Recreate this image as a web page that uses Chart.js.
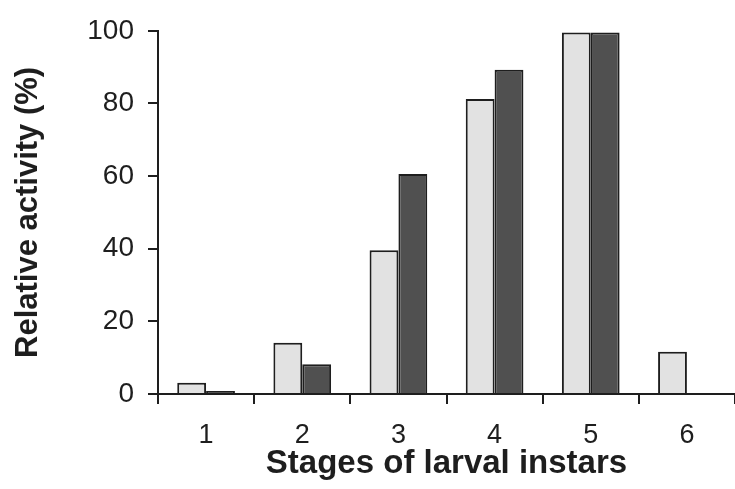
<!DOCTYPE html>
<html>
<head>
<meta charset="utf-8">
<script src="https://cdn.jsdelivr.net/npm/chart.js@4"></script>
<style>
	html, body { margin: 0; padding: 0; background: #fff; }
	#wrap { width: 735px; height: 489px; }
</style>
</head>
<body>
<div id="wrap"><canvas id="main-chart" width="735" height="489"></canvas></div>
<script>
// stages of larval instars
const stages = ['1', '2', '3', '4', '5', '6'];
// relative activity (%), light bars and dark bars
const lightSeries = [3.1, 14.1, 39.6, 81.2, 99.5, 11.6];
const darkSeries = [0.8, 8.2, 60.6, 89.3, 99.5, 0];
const yTicks = [0, 20, 40, 60, 80, 100];

const ink = '#1e1e1e';
const font = "'Liberation Sans', Arial, sans-serif";

const ctx = document.getElementById('main-chart');

new Chart(ctx, {
	type: 'bar',
	data: {
		labels: stages,
		datasets: [{
			label: 'light',
			data: lightSeries,
			backgroundColor: '#e2e2e2',
			borderColor: ink,
			borderWidth: 2,
			barPercentage: 1,
			categoryPercentage: 0.6
		}, {
			label: 'dark',
			data: darkSeries,
			backgroundColor: '#505050',
			borderColor: ink,
			borderWidth: 2,
			barPercentage: 1,
			categoryPercentage: 0.6
		}]
	},
	options: {
		responsive: false,
		animation: false,
		layout: { padding: { top: 30, right: 0, left: 0, bottom: 0 } },
		plugins: {
			legend: { display: false },
			tooltip: { enabled: false }
		},
		scales: {
			x: {
				grid: { display: true, drawOnChartArea: false, drawTicks: true, tickLength: 10, color: ink, lineWidth: 2 },
				border: { display: true, color: ink, width: 2 },
				ticks: { color: ink, font: { family: font, size: 27 }, padding: 15 },
				title: {
					display: true,
					text: 'Stages of larval instars',
					color: ink,
					font: { family: font, size: 33, weight: 'bold' },
					padding: { top: 0, bottom: 5 }
				},
				afterFit(scale) { scale.height = 95; }
			},
			y: {
				min: 0,
				max: 100,
				afterBuildTicks(scale) { scale.ticks = yTicks.map(v => ({ value: v })); },
				grid: { display: true, drawOnChartArea: false, drawTicks: true, tickLength: 10, color: ink, lineWidth: 2 },
				border: { display: true, color: ink, width: 2 },
				ticks: { color: ink, font: { family: font, size: 28 }, padding: 14 },
				title: {
					display: true,
					text: 'Relative activity (%)',
					color: ink,
					font: { family: font, size: 31, weight: 'bold' },
					padding: { top: 10, bottom: 0 }
				},
				afterFit(scale) { scale.width = 158; }
			}
		}
	}
});
</script>
</body>
</html>
